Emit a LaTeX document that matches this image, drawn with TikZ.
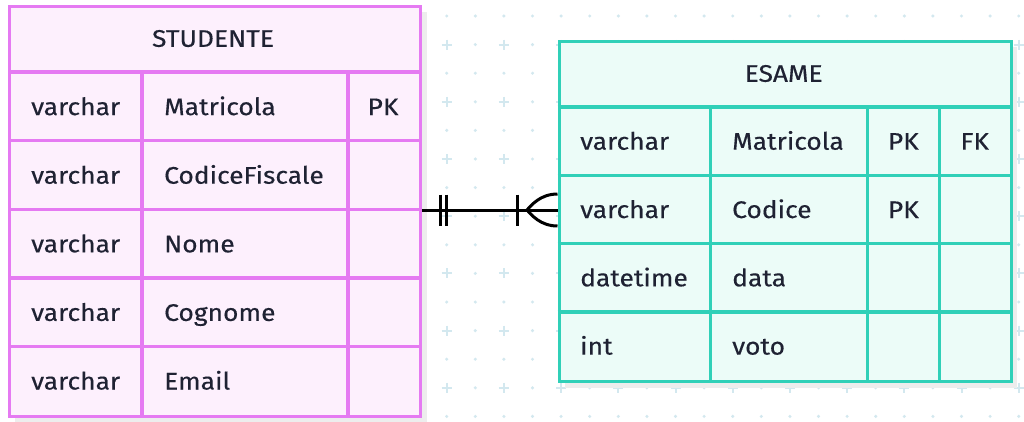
\documentclass[tikz,border=0pt]{standalone}
\usepackage{fontspec}
\setmainfont{Fira Sans}[FakeStretch=1.1,FakeBold=0.3]
\definecolor{pinkline}{HTML}{E57AF2}
\definecolor{pinkfill}{HTML}{FDF0FD}
\definecolor{tealline}{HTML}{30D0B8}
\definecolor{tealfill}{HTML}{ECFCF8}
\definecolor{txt}{HTML}{1F2233}
\definecolor{gridc}{HTML}{D3E8EF}
\definecolor{shadowc}{HTML}{EDEDED}
\begin{document}
\begin{tikzpicture}[x=1pt,y=-1pt,
  lbl/.style={font=\fontsize{24}{28}\selectfont, text=txt, inner sep=0pt, anchor=base west},
  hdr/.style={font=\fontsize{24}{28}\selectfont, text=txt, inner sep=0pt, anchor=base},
  pinkbox/.style={draw=pinkline, fill=pinkfill, line width=3.4pt, inner sep=0pt, anchor=north west},
  tealbox/.style={draw=tealline, fill=tealfill, line width=3.4pt, inner sep=0pt, anchor=north west},
  pinkrule/.style={draw=pinkline, line width=3.4pt},
  tealrule/.style={draw=tealline, line width=3.4pt},
  rel/.style={draw=black, line width=3pt},
  plusmark/.style={draw=gridc, line width=2pt},
]
\useasboundingbox (0,0) rectangle (1024,421);
\fill[white] (0,0) rectangle (1024,421);
% background grid
\foreach \j in {0,...,14}{
  \foreach \k in {0,...,36}{
    \pgfmathsetmacro\gx{446.7+28.6*(\k-16)}
    \pgfmathsetmacro\gy{16+28.6*\j}
    \ifodd\j\relax
      \ifodd\k\relax
        \fill[gridc] (\gx,\gy) circle (1.7);
      \else
        \draw[plusmark] ({\gx-5},\gy) -- ({\gx+5},\gy) (\gx,{\gy-5}) -- (\gx,{\gy+5});
      \fi
    \else
      \fill[gridc] (\gx,\gy) circle (1.7);
    \fi
  }
}
% shadows
\fill[shadowc] (15,12) rectangle (427,423);
\fill[shadowc] (564.5,46.5) rectangle (1017,388);
% STUDENTE table
\node[pinkbox, minimum width=410.5pt, minimum height=410pt] (stud) at (8,5) {};
\draw[pinkrule] (8,72) -- (418.5,72);
\foreach \y in {140.6,209.2,277.8,346.4}{ \draw[pinkrule] (8,\y) -- (418.5,\y); }
\draw[pinkrule] (142,72) -- (142,415);
\draw[pinkrule] (348,72) -- (348,415);
\node[hdr] (studT) at (213,46.8) {STUDENTE};
\node[lbl] (s1t) at (31,115.1) {varchar};
\node[lbl] (s1n) at (164,115.1) {Matricola};
\node[hdr] (s1k) at (383,115.1) {PK};
\node[lbl] (s2t) at (31,183.7) {varchar};
\node[lbl] (s2n) at (164,183.7) {CodiceFiscale};
\node[lbl] (s3t) at (31,252.3) {varchar};
\node[lbl] (s3n) at (164,252.3) {Nome};
\node[lbl] (s4t) at (31,320.9) {varchar};
\node[lbl] (s4n) at (164,320.9) {Cognome};
\node[lbl] (s5t) at (31,389.5) {varchar};
\node[lbl] (s5n) at (164,389.5) {Email};
% ESAME table
\node[tealbox, minimum width=452.5pt, minimum height=340.5pt] (esame) at (557.5,39.5) {};
\draw[tealrule] (557.5,107) -- (1010,107);
\foreach \y in {175.3,243.6,311.9}{ \draw[tealrule] (557.5,\y) -- (1010,\y); }
\draw[tealrule] (710.7,107) -- (710.7,380);
\draw[tealrule] (867.3,107) -- (867.3,380);
\draw[tealrule] (939.3,107) -- (939.3,380);
\node[hdr] (esT) at (783.7,81.8) {ESAME};
\node[lbl] (e1t) at (580,149.7) {varchar};
\node[lbl] (e1n) at (732,149.7) {Matricola};
\node[hdr] (e1k) at (903.3,149.7) {PK};
\node[hdr] (e1f) at (974.7,149.7) {FK};
\node[lbl] (e2t) at (580,218) {varchar};
\node[lbl] (e2n) at (732,218) {Codice};
\node[hdr] (e2k) at (903.3,218) {PK};
\node[lbl] (e3t) at (580,286.3) {datetime};
\node[lbl] (e3n) at (732,286.3) {data};
\node[lbl] (e4t) at (580,354.6) {int};
\node[lbl] (e4n) at (732,354.6) {voto};
% relationship
\coordinate (relL) at (stud.east |- 0,210);
\coordinate (relR) at (esame.west |- 0,210);
\draw[rel] (relL) -- (relR);
\draw[rel] ([xshift=18.5pt]relL) ++(0,-15.5) -- ++(0,31);
\draw[rel] ([xshift=25pt]relL) ++(0,-15.5) -- ++(0,31);
\draw[rel] ([xshift=-40.5pt]relR) ++(0,-15.5) -- ++(0,31);
\coordinate (crow) at ([xshift=-30.5pt]relR);
\draw[rel] ([yshift=16pt]relR) .. controls ([xshift=-17pt,yshift=16pt]relR) and ([xshift=-26pt,yshift=5pt]relR) .. (crow)
  .. controls ([xshift=-26pt,yshift=-5pt]relR) and ([xshift=-17pt,yshift=-16pt]relR) .. ([yshift=-16pt]relR);
\end{tikzpicture}
\end{document}
